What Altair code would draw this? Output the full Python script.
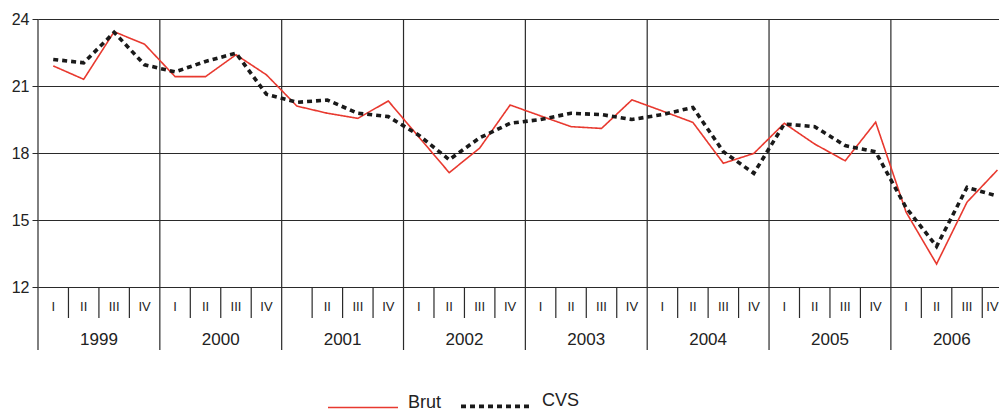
import altair as alt
import pandas as pd

years = [1999, 2000, 2001, 2002, 2003, 2004, 2005, 2006]
quarters = ["I", "II", "III", "IV"]
missing_quarter_labels = [(2001, "I")]  # absent in the original figure
y_ticks = [12, 15, 18, 21, 24]

brut = [21.9, 21.3, 23.43, 22.87,
        21.42, 21.42, 22.4, 21.5,
        20.1, 19.78, 19.55, 20.33,
        18.72, 17.12, 18.22, 20.15,
        19.66, 19.18, 19.1, 20.38,
        19.88, 19.37, 17.54, 17.98,
        19.33, 18.4, 17.65, 19.38,
        15.35, 13.03, 15.8, 17.24]
cvs = [22.19, 22.04, 23.4, 21.95,
       21.63, 22.1, 22.47, 20.63,
       20.27, 20.37, 19.78, 19.63,
       18.8, 17.7, 18.68, 19.33,
       19.5, 19.78, 19.72, 19.5,
       19.72, 20.04, 18.06, 17.09,
       19.3, 19.18, 18.33, 18.05,
       15.55, 13.82, 16.46, 16.07]

FONT = "Liberation Sans"
INK = "#222222"
GRID = "#2a2a2a"

rows = []
for i, (b, c) in enumerate(zip(brut, cvs)):
    rows.append({"t": i + 0.5, "v": b, "serie": "Brut"})
    rows.append({"t": i + 0.5, "v": c, "serie": "CVS"})
series_df = pd.DataFrame(rows)

qlab = []
for yi, yr in enumerate(years):
    for qi, q in enumerate(quarters):
        qlab.append({"t": yi * 4 + qi + 0.5,
                     "lab": "" if (yr, q) in missing_quarter_labels else q})
qlab_df = pd.DataFrame(qlab)
qlab_main = qlab_df.iloc[:-1]
qlab_last = qlab_df.iloc[-1:]
ylab_df = pd.DataFrame({"t": [i * 4 + 2 for i in range(len(years))],
                        "lab": [str(y) for y in years]})
year_bounds = pd.DataFrame({"t": [i * 4 for i in range(len(years))]})
q_bounds = pd.DataFrame({"t": [i for i in range(1, 4 * len(years)) if i % 4 != 0]})

PW = 961
PH = 268
xscale = alt.Scale(domain=[0, PW / 30.46], nice=False, zero=False)
yscale = alt.Scale(domain=[12, 24], nice=False, zero=False)

base_y = alt.Y("v:Q", scale=yscale,
               axis=alt.Axis(values=y_ticks, grid=True, gridColor=GRID, gridWidth=1,
                             gridOpacity=1, domain=False, ticks=True, tickSize=6,
                             tickColor=GRID, labelFont=FONT, labelFontSize=16,
                             labelColor=INK, labelPadding=3, title=None))

leg = dict(orient="none", legendX=289, legendY=350, direction="horizontal", title=None)

lines = alt.Chart(series_df).mark_line().encode(
    x=alt.X("t:Q", scale=xscale, axis=None),
    y=base_y,
    color=alt.Color("serie:N",
                    scale=alt.Scale(domain=["Brut", "CVS"], range=["#e8392f", "#1a1a1a"]),
                    legend=alt.Legend(symbolType="stroke", symbolSize=4900,
                                      labelFont=FONT, labelFontSize=18, labelColor=INK,
                                      labelOffset=9, columnPadding=11,
                                      labelBaseline="alphabetic", **leg)),
    strokeDash=alt.StrokeDash("serie:N",
                              scale=alt.Scale(domain=["Brut", "CVS"], range=[[1, 0], [5, 4]]),
                              legend=alt.Legend(**leg)),
    strokeWidth=alt.StrokeWidth("serie:N",
                                scale=alt.Scale(type="ordinal", domain=["Brut", "CVS"], range=[1.6, 3.6]),
                                legend=alt.Legend(**leg)),
)

year_rules = alt.Chart(year_bounds).mark_rule(color=GRID, strokeWidth=1.2).encode(
    x=alt.X("t:Q", scale=xscale, axis=None),
    y=alt.value(0), y2=alt.value(331))

q_rules = alt.Chart(q_bounds).mark_rule(color=GRID, strokeWidth=1.2).encode(
    x=alt.X("t:Q", scale=xscale, axis=None),
    y=alt.value(PH), y2=alt.value(PH + 31))

q_text = alt.Chart(qlab_main).mark_text(font=FONT, fontSize=13, color=INK, baseline="middle").encode(
    x=alt.X("t:Q", scale=xscale, axis=None),
    y=alt.value(PH + 20), text="lab:N")

q_text_last = alt.Chart(qlab_last).mark_text(font=FONT, fontSize=13, color=INK, baseline="middle",
                                             dx=-5).encode(
    x=alt.X("t:Q", scale=xscale, axis=None),
    y=alt.value(PH + 20), text="lab:N")

y_text = alt.Chart(ylab_df).mark_text(font=FONT, fontSize=17, color=INK, baseline="middle").encode(
    x=alt.X("t:Q", scale=xscale, axis=None),
    y=alt.value(PH + 53), text="lab:N")

chart = alt.layer(year_rules, q_rules, q_text, q_text_last, y_text, lines).properties(
    width=PW, height=PH,
    autosize=alt.AutoSizeParams(type="none"),
    padding={"left": 30, "top": 11, "right": 0, "bottom": 123},
    background="white",
).configure_view(stroke=None)

chart.save("out.html", embed_options={"renderer": "svg", "actions": False})
